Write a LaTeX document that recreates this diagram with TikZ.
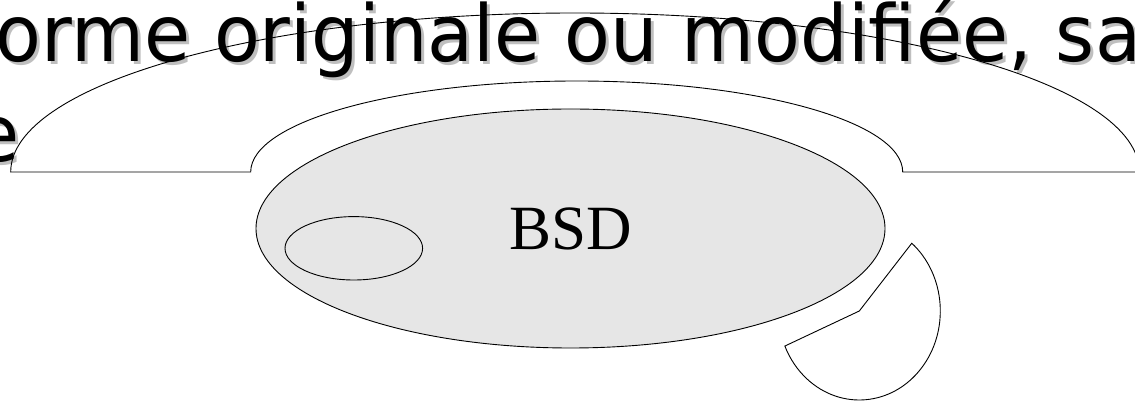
\documentclass[tikz,border=0pt]{standalone}
\usepackage{fontspec}
\setmainfont{Liberation Serif}
\newfontfamily\titlefont[FakeStretch=0.955]{DejaVu Sans}
\usetikzlibrary{shapes.geometric}
\definecolor{bsdfill}{HTML}{E6E6E6}
\definecolor{shadowgray}{HTML}{BFBFBF}
\tikzset{
  outline/.style={draw=black, line width=0.9pt},
  titletext/.style={inner sep=0pt, outer sep=0pt, font=\titlefont\fontsize{78.5}{101}\selectfont},
  shadowtext/.style={titletext, text=shadowgray},
}
\begin{document}
\begin{tikzpicture}[x=1pt,y=1pt]
\useasboundingbox (0,0) rectangle (1135,401);
\clip (0,0) rectangle (1135,401);
% outer cap shape (white)
\coordinate (capL) at (10.7,229);
\coordinate (capIL) at (250.7,229);
\coordinate (capIR) at (902.7,229);
\coordinate (capR) at (1139.3,229);
\fill[white] (capL) -- (capIL) arc[start angle=180, end angle=0, x radius=326, y radius=91]
  -- (capR) arc[start angle=0, end angle=180, x radius=564.3, y radius=159] -- cycle;
% title text with shadow
\node[shadowtext, anchor=base west] (t1s) at (-1.2,336.8) {orme originale ou modifiée, sa};
\node[shadowtext, anchor=base east] (t2s) at (23,236) {e};
\node[titletext, anchor=base west] (t1) at (-4.2,339.8) {orme originale ou modifiée, sa};
\node[titletext, anchor=base east] (t2) at (20,239) {e};
% cap outline
\draw[outline] (capL) -- (capIL) arc[start angle=180, end angle=0, x radius=326, y radius=91]
  -- (capR) arc[start angle=0, end angle=180, x radius=564.3, y radius=159] -- cycle;
% BSD ellipse
\node[ellipse, outline, fill=bsdfill, minimum width=629pt, minimum height=239pt,
  inner sep=0pt, font=\fontsize{63}{70}\selectfont] (bsd) at (570.5,172.5) {BSD};
\node[ellipse, outline, minimum width=137.6pt, minimum height=63.4pt, inner sep=0pt] (small) at (353.8,152.7) {};
% wedge
\coordinate (wc) at (859.3,90);
\draw[outline, fill=white] (wc) -- ++(49.6:81 and 89) arc[start angle=49.6, end angle=-156.8, x radius=81, y radius=89] -- cycle;
\end{tikzpicture}
\end{document}
